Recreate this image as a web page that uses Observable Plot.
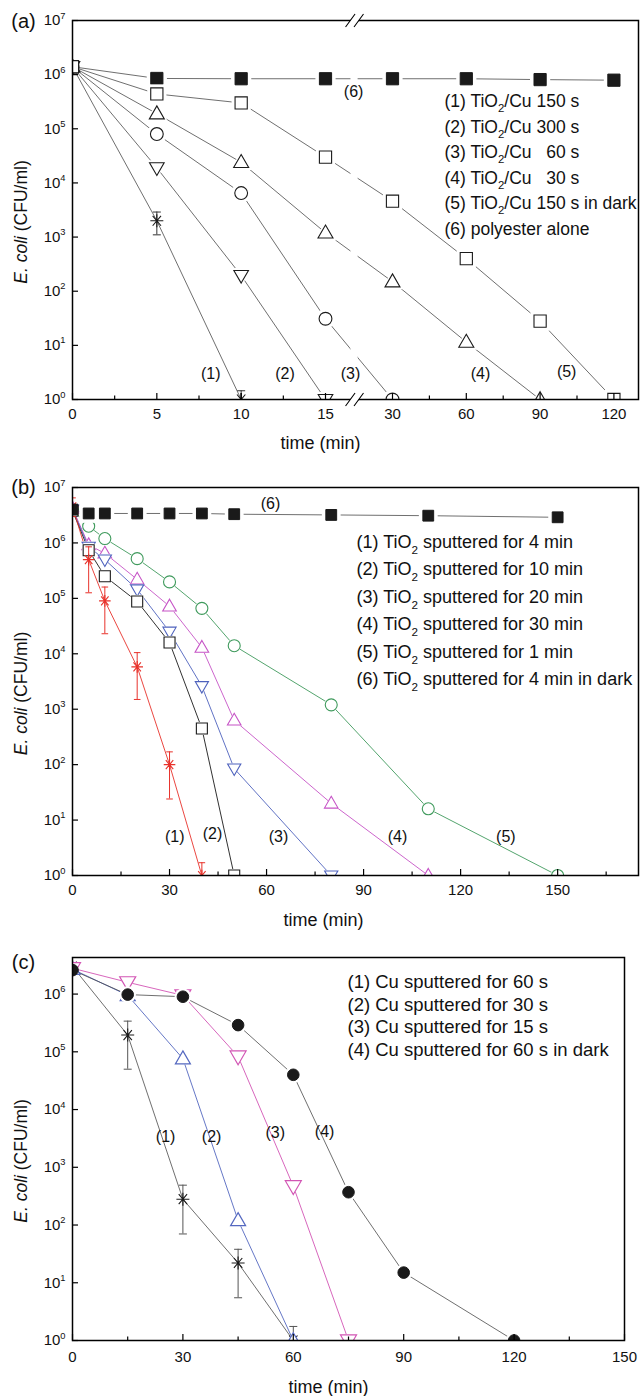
<!DOCTYPE html>
<html><head><meta charset="utf-8">
<script src="https://cdn.jsdelivr.net/npm/d3@7"></script>
<script src="https://cdn.jsdelivr.net/npm/@observablehq/plot@0.6"></script>
<style>
body{margin:0;background:#fff;}
#chart{width:641px;}
#chart svg{display:block;}
</style></head><body><div id="chart"></div>
<script>
// ---------------- Panel (a) data ----------------
const a_legend = ["(1) TiO_{2}/Cu 150 s", "(2) TiO_{2}/Cu 300 s", "(3) TiO_{2}/Cu\u00a0\u00a0 60 s", "(4) TiO_{2}/Cu\u00a0\u00a0 30 s", "(5) TiO_{2}/Cu 150 s in dark", "(6) polyester alone"];
const a_xTicks = [0, 5, 10, 15, 30, 60, 90, 120];
const a_xMinor = [2.5, 7.5, 12.5, 45, 75, 105];
const a1_t = [0, 5, 10];                       const a1_v = [1.4e6, 2.0e3, 1];
const a1_lo = [null, 1.1e3, 1];                const a1_hi = [null, 2.9e3, 1.45];
const a2_t = [0, 5, 10, 15];                   const a2_v = [1.4e6, 1.9e4, 195, 1];
const a3_t = [0, 5, 10, 15, 30];               const a3_v = [1.4e6, 8.0e4, 6.5e3, 31, 1];
const a4_t = [0, 5, 10, 15, 30, 60, 90];       const a4_v = [1.4e6, 1.9e5, 2.4e4, 1.2e3, 150, 11.5, 1];
const a5_t = [0, 5, 10, 15, 30, 60, 90, 120];  const a5_v = [1.4e6, 4.4e5, 3.0e5, 3.0e4, 4.6e3, 400, 28, 1];
const a6_t = [0, 5, 10, 15, 30, 60, 90, 120];  const a6_v = [1.4e6, 8.5e5, 8.4e5, 8.4e5, 8.4e5, 8.4e5, 8.1e5, 7.9e5];
const a_curveText = ["(1)", "(2)", "(3)", "(4)", "(5)", "(6)"];
const a_curveT = [8.2, 12.6, 20.6, 65.8, 100.8, 21.3];
const a_curveV = [3, 3, 3, 3, 3.2, 4.8e5];
const a_breakT = 21.5;

// ---------------- Panel (b) data ----------------
const b_legend = ["(1) TiO_{2} sputtered for 4 min", "(2) TiO_{2} sputtered for 10 min", "(3) TiO_{2} sputtered for 20 min", "(4) TiO_{2} sputtered for 30 min", "(5) TiO_{2} sputtered for 1 min", "(6) TiO_{2} sputtered for 4 min in dark"];
const b_xTicks = [0, 30, 60, 90, 120, 150];
const b_xMinor = [15, 45, 75, 105, 135, 165];
const b1_t = [0, 5, 10, 20, 30, 40];           const b1_v = [4.5e6, 5.0e5, 9.0e4, 5.8e3, 100, 1];
const b1_lo = [3.0e6, 1.26e5, 2.3e4, 1.5e3, 24, 1];
const b1_hi = [6.5e6, 8.5e5, 1.6e5, 1.05e4, 170, 1.7];
const b2_t = [0, 5, 10, 20, 30, 40, 50];       const b2_v = [3.8e6, 7.4e5, 2.5e5, 8.8e4, 1.6e4, 450, 1];
const b3_t = [0, 5, 10, 20, 30, 40, 50, 80];   const b3_v = [4.0e6, 8.5e5, 5.0e5, 1.45e5, 2.5e4, 2.6e3, 85, 1];
const b4_t = [0, 5, 10, 20, 30, 40, 50, 80, 110];       const b4_v = [4.2e6, 9.2e5, 6.5e5, 2.2e5, 7.2e4, 1.3e4, 630, 20, 1];
const b5_t = [0, 5, 10, 20, 30, 40, 50, 80, 110, 150];  const b5_v = [4.0e6, 2.0e6, 1.2e6, 5.2e5, 1.98e5, 6.6e4, 1.4e4, 1.2e3, 16, 1];
const b6_t = [0, 5, 10, 20, 30, 40, 50, 80, 110, 150];  const b6_v = [4.0e6, 3.4e6, 3.4e6, 3.4e6, 3.4e6, 3.4e6, 3.3e6, 3.2e6, 3.1e6, 2.9e6];
const b_curveText = ["(1)", "(2)", "(3)", "(4)", "(5)", "(6)"];
const b_curveT = [31.6, 43.3, 63.7, 100.5, 134, 61.2];
const b_curveV = [5, 5.6, 5, 5, 5, 5.0e6];

// ---------------- Panel (c) data ----------------
const c_legend = ["(1) Cu sputtered for 60 s", "(2) Cu sputtered for 30 s", "(3) Cu sputtered for 15 s", "(4) Cu sputtered for 60 s in dark"];
const c_xTicks = [0, 30, 60, 90, 120, 150];
const c_xMinor = [15, 45, 75, 105, 135];
const c1_t = [0, 15, 30, 45, 60];              const c1_v = [3.0e6, 1.95e5, 280, 22, 1];
const c1_lo = [null, 5.0e4, 70, 5.5, 1];       const c1_hi = [null, 3.4e5, 490, 38, 1.75];
const c2_t = [0, 15, 30, 45, 60];              const c2_v = [2.7e6, 9.5e5, 7.6e4, 120, 1];
const c3_t = [0, 15, 30, 45, 60, 75];          const c3_v = [2.8e6, 1.6e6, 9.5e5, 8.3e4, 470, 1];
const c4_t = [0, 15, 30, 45, 60, 75, 90, 120]; const c4_v = [2.6e6, 9.8e5, 9.0e5, 2.9e5, 4.0e4, 370, 15, 1];
const c_curveText = ["(1)", "(2)", "(3)", "(4)"];
const c_curveT = [25.3, 37.8, 55.1, 68.5];
const c_curveV = [3.3e3, 3.3e3, 3.9e3, 4.1e3];

// ---------------- helpers ----------------
const W = 641;
const FONT = "'Liberation Sans', Arial, Helvetica, sans-serif";
const rows = (t, v, lo, hi) => t.map((tt, i) => ({t: tt, v: v[i], lo: lo ? lo[i] : null, hi: hi ? hi[i] : null}));
const R = s => Math.sqrt(s / Math.PI);
const sym = {
  circle: {draw(c, s) { const r = R(s); c.moveTo(r, 0); c.arc(0, 0, r, 0, 2 * Math.PI); c.closePath(); }},
  square: {draw(c, s) { const r = R(s); c.moveTo(-r, -r); c.lineTo(r, -r); c.lineTo(r, r); c.lineTo(-r, r); c.closePath(); }},
  triUp: {draw(c, s) { const w = R(s), h = w * Math.sqrt(3); c.moveTo(0, -0.6 * h); c.lineTo(w, 0.4 * h); c.lineTo(-w, 0.4 * h); c.closePath(); }},
  triDown: {draw(c, s) { const w = R(s), h = w * Math.sqrt(3); c.moveTo(0, 0.6 * h); c.lineTo(w, -0.4 * h); c.lineTo(-w, -0.4 * h); c.closePath(); }},
  asterisk: {draw(c, s) { const r = R(s); for (const a of [0, 90, 50, 130]) { const x = r * Math.cos(a * Math.PI / 180), y = r * Math.sin(a * Math.PI / 180); c.moveTo(-x, -y); c.lineTo(x, y); } }},
  cap: {draw(c, s) { const r = R(s); c.moveTo(-r, 0); c.lineTo(r, 0); }},
  slashes: {draw(c, s) { const r = R(s); for (const o of [-0.65 * r, 0.65 * r]) { c.moveTo(o - 0.73 * r, r); c.lineTo(o + 0.73 * r, -r); } }},
  slashGap: {draw(c, s) { const r = R(s); c.moveTo(-0.65 * r - 0.3 * r, 0.4 * r); c.lineTo(0.65 * r - 0.3 * r, 0.4 * r); c.lineTo(0.65 * r + 0.3 * r, -0.4 * r); c.lineTo(-0.65 * r + 0.3 * r, -0.4 * r); c.closePath(); }}
};

function richify(svg) {
  const ns = "http://www.w3.org/2000/svg";
  svg.querySelectorAll("text").forEach(t => {
    const s = t.textContent;
    if (!/[_^~]\{/.test(s)) return;
    const fs = parseFloat(getComputedStyle(t).fontSize) || 15;
    const re = /([_^~])\{([^}]*)\}/g;
    const parts = []; let last = 0, m;
    while ((m = re.exec(s))) { if (m.index > last) parts.push({k: "", s: s.slice(last, m.index)}); parts.push({k: m[1], s: m[2]}); last = re.lastIndex; }
    if (last < s.length) parts.push({k: "", s: s.slice(last)});
    while (t.firstChild) t.removeChild(t.firstChild);
    let shift = 0;
    for (const p of parts) {
      const ts = document.createElementNS(ns, "tspan");
      ts.textContent = p.s;
      let target = 0;
      if (p.k === "^") { target = -0.45 * fs; ts.setAttribute("font-size", (0.62 * fs).toFixed(1)); }
      else if (p.k === "_") { target = 0.3 * fs; ts.setAttribute("font-size", (0.65 * fs).toFixed(1)); }
      else if (p.k === "~") ts.setAttribute("font-style", "italic");
      if (target !== shift) { ts.setAttribute("dy", (target - shift).toFixed(2)); shift = target; }
      t.appendChild(ts);
    }
  });
}

function buildPanel(p) {
  const fw = W - p.ml - p.mr, fh = p.h - p.mt - p.mb;
  const marks = [];
  for (const s of p.series) {
    marks.push(Plot.line(s.rows, {x: "t", y: "v", stroke: s.line, strokeWidth: s.lw, clip: true}));
  }
  if (p.breakT != null) {
    marks.push(Plot.rect([p.breakT], {x1: d => d - 0.8, x2: d => d + 0.8, y1: () => p.yDomain[0], y2: () => p.yDomain[1], fill: "white"}));
  }
  for (const s of p.series) {
    if (s.halo) marks.push(Plot.dot(s.rows.filter(d => d.t > 0), {x: "t", y: "v", symbol: s.sym, r: s.r + s.halo, fill: "white", stroke: "none", clip: true}));
    if (s.errColor) {
      const e = s.rows.filter(d => d.lo != null);
      marks.push(Plot.ruleX(e, {x: "t", y1: "lo", y2: "hi", stroke: s.errColor, strokeWidth: 1, clip: true}));
      marks.push(Plot.dot(e, {x: "t", y: "hi", symbol: sym.cap, r: s.cap, stroke: s.errColor, fill: "none", strokeWidth: 1, clip: true}));
      marks.push(Plot.dot(e.filter(d => d.lo > p.yDomain[0]), {x: "t", y: "lo", symbol: sym.cap, r: s.cap, stroke: s.errColor, fill: "none", strokeWidth: 1, clip: true}));
    }
    marks.push(Plot.dot(s.rows, {x: "t", y: "v", symbol: s.sym, r: s.r, fill: s.fill, stroke: s.stroke, strokeWidth: s.sw, clip: true}));
  }
  // curve labels
  marks.push(Plot.text(p.curves, {x: "t", y: "v", text: "s", fontSize: p.curveFont, fill: "#111"}));
  // legend
  p.legend.forEach((txt, i) => {
    marks.push(Plot.text([txt], {frameAnchor: "top-left", dx: p.legX, dy: p.legY[i], textAnchor: "start", lineAnchor: "middle", fontSize: p.legFont, fill: "#111"}));
  });
  // frame, ticks
  marks.push(Plot.frame({stroke: "black", strokeWidth: 1.5}));
  marks.push(Plot.tickX(p.xTicks, {x: d => d, stroke: "black", strokeWidth: 1.2, insetTop: fh - 6}));
  marks.push(Plot.tickX(p.xMinor, {x: d => d, stroke: "black", strokeWidth: 1.2, insetTop: fh - 3.5}));
  marks.push(Plot.tickY(p.yTicks, {y: d => d, stroke: "black", strokeWidth: 1.2, insetRight: fw - 6}));
  if (p.breakT != null) {
    for (const yy of p.yDomain) {
      marks.push(Plot.dot([p.breakT], {x: d => d, y: () => yy, symbol: sym.slashGap, r: 6.5, fill: "white", stroke: "none"}));
      marks.push(Plot.dot([p.breakT], {x: d => d, y: () => yy, symbol: sym.slashes, r: 6.5, fill: "none", stroke: "black", strokeWidth: 1.1}));
    }
  }
  // axes text
  marks.push(Plot.axisX({ticks: p.xTicks, tickSize: 0, tickPadding: p.xPad, tickFormat: d => String(d), fontSize: 15, label: null}));
  marks.push(Plot.axisY({ticks: p.yTicks, tickSize: 0, tickPadding: 7, tickFormat: d => `10^{${Math.round(Math.log10(d))}}`, fontSize: 15, label: null}));
  marks.push(Plot.text(["~{E. coli} (CFU/ml)"], {frameAnchor: "left", rotate: -90, textAnchor: "middle", lineAnchor: "middle", dx: -51.5, dy: 12, fontSize: 17.5, fill: "#111"}));
  marks.push(Plot.text(["time (min)"], {frameAnchor: "bottom", textAnchor: "middle", lineAnchor: "middle", dx: p.timeDx, dy: p.timeDy, fontSize: 18, fill: "#111"}));
  marks.push(Plot.text([p.tag], {frameAnchor: "top-left", textAnchor: "middle", lineAnchor: "middle", dx: -49, dy: p.tagDy, fontSize: 20, fill: "#111"}));

  const svg = Plot.plot({
    width: W, height: p.h,
    marginTop: p.mt, marginBottom: p.mb, marginLeft: p.ml, marginRight: p.mr,
    x: p.x,
    y: {type: "log", domain: p.yDomain},
    style: {fontFamily: FONT, fontSize: "15px", color: "#111", background: "white", overflow: "visible"},
    marks
  });
  return svg;
}

const blk = "#1a1a1a", gline = "#4a4a4a";
const panelA = {
  tag: "(a)", h: 462, mt: 20, mb: 63, ml: 72, mr: 3,
  x: {type: "linear", domain: [0, 15, 30, 130], range: [72, 325, 392, 638]},
  yDomain: [1, 1e7], yTicks: [1, 10, 100, 1e3, 1e4, 1e5, 1e6, 1e7],
  xTicks: a_xTicks, xMinor: a_xMinor, xPad: 9, timeDx: -35, timeDy: 44, tagDy: 1,
  breakT: a_breakT,
  legend: a_legend, legX: 372, legY: [81, 107, 132, 158, 183, 209], legFont: 17.5, curveFont: 16,
  curves: a_curveText.map((s, i) => ({s, t: a_curveT[i], v: a_curveV[i]})),
  series: [
    {rows: rows(a6_t, a6_v), sym: sym.square, r: 6.1, fill: blk, stroke: blk, sw: 1, line: gline, lw: 0.8, halo: 4},
    {rows: rows(a1_t, a1_v, a1_lo, a1_hi), sym: sym.asterisk, r: 6.5, fill: "none", stroke: blk, sw: 1.1, line: gline, lw: 0.8, errColor: "#333", cap: 4},
    {rows: rows(a2_t, a2_v), sym: sym.triDown, r: 7.3, fill: "white", stroke: blk, sw: 1.1, line: gline, lw: 0.8, halo: 3.5},
    {rows: rows(a3_t, a3_v), sym: sym.circle, r: 6.4, fill: "white", stroke: blk, sw: 1.1, line: gline, lw: 0.8, halo: 3.5},
    {rows: rows(a4_t, a4_v), sym: sym.triUp, r: 7.5, fill: "white", stroke: blk, sw: 1.1, line: gline, lw: 0.8, halo: 3.5},
    {rows: rows(a5_t, a5_v), sym: sym.square, r: 6.1, fill: "white", stroke: blk, sw: 1.1, line: gline, lw: 0.8, halo: 3.5}
  ]
};
const red = "#e8322b", blue = "#4e62bd", mag = "#c653c6", green = "#3f9a5c";
const panelB = {
  tag: "(b)", h: 470, mt: 25, mb: 57, ml: 72, mr: 3,
  x: {domain: [0, 175]},
  yDomain: [1, 1e7], yTicks: [1, 10, 100, 1e3, 1e4, 1e5, 1e6, 1e7],
  xTicks: b_xTicks, xMinor: b_xMinor, xPad: 9, timeDx: -32, timeDy: 45, tagDy: 0,
  legend: b_legend, legX: 284, legY: [55, 82, 110, 137, 165, 192], legFont: 18, curveFont: 16,
  curves: b_curveText.map((s, i) => ({s, t: b_curveT[i], v: b_curveV[i]})),
  series: [
    {rows: rows(b5_t, b5_v), sym: sym.circle, r: 6, fill: "white", stroke: green, sw: 1.1, line: green, lw: 0.9, halo: 1},
    {rows: rows(b4_t, b4_v), sym: sym.triUp, r: 6.8, fill: "white", stroke: mag, sw: 1.1, line: mag, lw: 0.9, halo: 1},
    {rows: rows(b3_t, b3_v), sym: sym.triDown, r: 6.6, fill: "white", stroke: blue, sw: 1.1, line: blue, lw: 0.9, halo: 1},
    {rows: rows(b2_t, b2_v), sym: sym.square, r: 5.5, fill: "white", stroke: blk, sw: 1.1, line: blk, lw: 0.9, halo: 1},
    {rows: rows(b1_t, b1_v, b1_lo, b1_hi), sym: sym.asterisk, r: 5.8, fill: "none", stroke: red, sw: 1.1, line: red, lw: 0.9, errColor: red, cap: 3.3},
    {rows: rows(b6_t, b6_v), sym: sym.square, r: 5.4, fill: blk, stroke: blk, sw: 1, line: gline, lw: 0.8, halo: 4}
  ]
};
const blue2 = "#5468c0", pink = "#d255b4";
const panelC = {
  tag: "(c)", h: 464, mt: 25, mb: 56, ml: 72, mr: 17,
  x: {domain: [0, 150]},
  yDomain: [1, 4.3e6], yTicks: [1, 10, 100, 1e3, 1e4, 1e5, 1e6],
  xTicks: c_xTicks, xMinor: c_xMinor, xPad: 11, timeDx: -20, timeDy: 47, tagDy: 5,
  legend: c_legend, legX: 275, legY: [25, 48, 70, 93], legFont: 18.5, curveFont: 16,
  curves: c_curveText.map((s, i) => ({s, t: c_curveT[i], v: c_curveV[i]})),
  series: [
    {rows: rows(c1_t, c1_v, c1_lo, c1_hi), sym: sym.asterisk, r: 6.5, fill: "none", stroke: blk, sw: 1.1, line: gline, lw: 0.8, errColor: "#555", cap: 4},
    {rows: rows(c2_t, c2_v), sym: sym.triUp, r: 7.5, fill: "white", stroke: blue2, sw: 1.2, line: blue2, lw: 0.9, halo: 1},
    {rows: rows(c3_t, c3_v), sym: sym.triDown, r: 8, fill: "white", stroke: pink, sw: 1.2, line: pink, lw: 0.9, halo: 1},
    {rows: rows(c4_t, c4_v), sym: sym.circle, r: 5.8, fill: blk, stroke: blk, sw: 1, line: gline, lw: 0.8, halo: 2.5}
  ]
};

const root = document.getElementById("chart");
for (const p of [panelA, panelB, panelC]) {
  const svg = buildPanel(p);
  root.appendChild(svg);
  richify(svg);
}
</script>
</body></html>
